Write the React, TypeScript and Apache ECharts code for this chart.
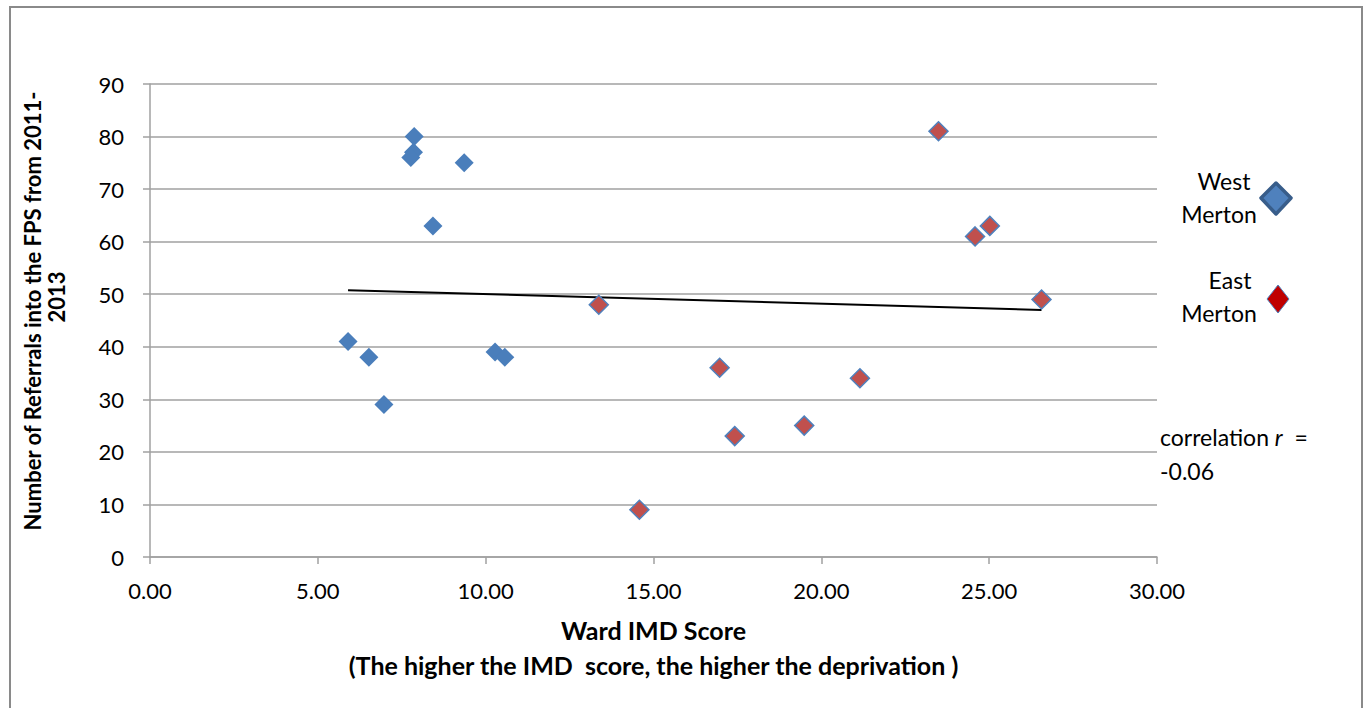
import React, { useEffect, useRef } from "react";
import * as echarts from "echarts";

const westX = [5.9, 6.52, 6.97, 7.87, 7.85, 7.77, 9.36, 8.43, 10.28, 10.57];
const westY = [41, 38, 29, 80, 77, 76, 75, 63, 39, 38];
const eastX = [13.37, 14.58, 16.97, 17.42, 19.49, 21.15, 23.49, 24.58, 25.02, 26.56];
const eastY = [48, 9, 36, 23, 25, 34, 81, 61, 63, 49];
const seriesNames = ["West Merton", "East Merton"];
const correlationValue = "-0.06";
const xTitle = "Ward IMD Score";
const xSubTitle = "(The higher the IMD  score, the higher the deprivation )";
const yTitleLine1 = "Number of Referrals into the FPS from 2011-";
const yTitleLine2 = "2013";

const FONT = "Lato";

function trend() {
  const xs = [...westX, ...eastX];
  const ys = [...westY, ...eastY];
  const n = xs.length;
  const mx = xs.reduce((a, b) => a + b, 0) / n;
  const my = ys.reduce((a, b) => a + b, 0) / n;
  let sxy = 0;
  let sxx = 0;
  for (let i = 0; i < n; i++) {
    sxy += (xs[i] - mx) * (ys[i] - my);
    sxx += (xs[i] - mx) * (xs[i] - mx);
  }
  const b = sxy / sxx;
  const a = my - b * mx;
  const x0 = Math.min(...xs);
  const x1 = Math.max(...xs);
  return [
    [x0, a + b * x0],
    [x1, a + b * x1],
  ];
}

export default function App() {
  const ref = useRef<HTMLDivElement>(null);
  useEffect(() => {
    if (!ref.current) return;
    const chart = echarts.init(ref.current, null, { renderer: "svg" });
    const gray = "#a0a0a0";
    chart.setOption({
      animation: false,
      backgroundColor: "#ffffff",
      grid: { left: 150, top: 84, right: 210, bottom: 151, containLabel: false },
      xAxis: {
        type: "value",
        min: 0,
        max: 30,
        interval: 5,
        name: xTitle + "\n" + xSubTitle,
        nameLocation: "middle",
        nameGap: 55,
        nameTextStyle: {
          fontFamily: FONT,
          fontWeight: "bold",
          fontSize: 25,
          color: "#000",
          lineHeight: 35,
        },
        axisLine: { show: true, lineStyle: { color: gray, width: 1.5 } },
        axisTick: { show: true, length: 7, lineStyle: { color: gray, width: 1.5 } },
        axisLabel: {
          fontFamily: FONT,
          fontSize: 22,
          color: "#000",
          margin: 22,
          formatter: (v: number) => v.toFixed(2),
        },
        splitLine: { show: false },
      },
      yAxis: {
        type: "value",
        min: 0,
        max: 90,
        interval: 10,
        axisLine: { show: true, lineStyle: { color: gray, width: 1.5 } },
        axisTick: { show: true, length: 7, lineStyle: { color: gray, width: 1.5 } },
        axisLabel: { fontFamily: FONT, fontSize: 22, color: "#000", margin: 26 },
        splitLine: { show: true, lineStyle: { color: gray, width: 1.5 } },
      },
      series: [
        {
          name: "Linear trend",
          type: "line",
          data: trend(),
          symbol: "none",
          lineStyle: { color: "#000", width: 2 },
          z: 1,
          silent: true,
        },
        {
          name: seriesNames[0],
          type: "scatter",
          symbol: "diamond",
          symbolSize: 19,
          itemStyle: { color: "#4a7ebb", opacity: 1 },
          data: westX.map((x, i) => [x, westY[i]]),
          z: 3,
        },
        {
          name: seriesNames[1],
          type: "scatter",
          symbol: "diamond",
          symbolSize: 19,
          itemStyle: { color: "#c0504d", borderColor: "#4f81bd", borderWidth: 1.5, opacity: 1 },
          data: eastX.map((x, i) => [x, eastY[i]]),
          z: 3,
        },
      ],
      graphic: [
        {
          type: "rect",
          shape: { x: 10, y: 7, width: 1352, height: 720 },
          style: { fill: "none", stroke: "#8a8a8a", lineWidth: 2 },
          z: 0,
          silent: true,
        },
        {
          type: "text",
          x: 32,
          y: 311,
          rotation: Math.PI / 2,
          style: {
            text: yTitleLine1,
            fontFamily: FONT,
            fontWeight: "bold",
            fontSize: 22,
            fill: "#000",
            textAlign: "center",
            textVerticalAlign: "middle",
          },
        },
        {
          type: "text",
          x: 56,
          y: 297,
          rotation: Math.PI / 2,
          style: {
            text: yTitleLine2,
            fontFamily: FONT,
            fontWeight: "bold",
            fontSize: 22,
            fill: "#000",
            textAlign: "center",
            textVerticalAlign: "middle",
          },
        },
        // legend: West Merton
        {
          type: "text",
          x: 1224,
          y: 181,
          style: { text: "West", fontFamily: FONT, fontSize: 23, fill: "#000", textAlign: "center", textVerticalAlign: "middle" },
        },
        {
          type: "text",
          x: 1219,
          y: 214,
          style: { text: "Merton", fontFamily: FONT, fontSize: 23, fill: "#000", textAlign: "center", textVerticalAlign: "middle" },
        },
        {
          type: "polygon",
          shape: { points: [[1276, 183], [1291, 198], [1276, 214], [1261, 198]] },
          style: { fill: "#4f81bd", stroke: "#385d8a", lineWidth: 3.5, lineJoin: "round" },
        },
        // legend: East Merton
        {
          type: "text",
          x: 1230,
          y: 280,
          style: { text: "East", fontFamily: FONT, fontSize: 23, fill: "#000", textAlign: "center", textVerticalAlign: "middle" },
        },
        {
          type: "text",
          x: 1219,
          y: 313,
          style: { text: "Merton", fontFamily: FONT, fontSize: 23, fill: "#000", textAlign: "center", textVerticalAlign: "middle" },
        },
        {
          type: "polygon",
          shape: { points: [[1278, 285], [1289, 299], [1278, 313], [1267, 299]] },
          style: { fill: "#c00000", stroke: "#4f81bd", lineWidth: 1 },
        },
        // correlation
        {
          type: "text",
          x: 1160,
          y: 437,
          style: {
            text: "{n|correlation }{i|r}{n|  =}",
            rich: {
              n: { fontFamily: FONT, fontSize: 23, fill: "#000" },
              i: { fontFamily: FONT, fontSize: 23, fontStyle: "italic", fill: "#000" },
            },
            textVerticalAlign: "middle",
          },
        },
        {
          type: "text",
          x: 1160,
          y: 471,
          style: { text: correlationValue, fontFamily: FONT, fontSize: 23, fill: "#000", textVerticalAlign: "middle" },
        },
      ],
    });
    return () => chart.dispose();
  }, []);
  return (
    <div
      ref={ref}
      style={{ position: "absolute", left: 0, top: 0, width: 1367, height: 708, background: "#fff" }}
    />
  );
}
